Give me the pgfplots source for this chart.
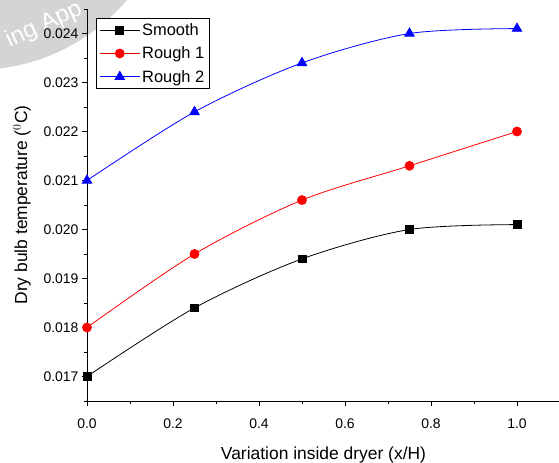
\documentclass[border=0pt]{standalone}
\usepackage{pgfplots}
\pgfplotsset{compat=1.18}
\usetikzlibrary{backgrounds}
\usepackage{fontspec}
\setmainfont{Liberation Sans}
\begin{document}
\begin{tikzpicture}[x=1bp,y=1bp]
\begin{axis}[
  name=ax,
  scale only axis,
  width=473bp, height=392bp,
  xmin=0, xmax=1.1, ymin=0.0165, ymax=0.0245,
  axis x line*=bottom, axis y line*=left,
  axis line style={black, line width=1pt},
  xtick={0,0.2,0.4,0.6,0.8,1.0},
  minor xtick={0.1,0.3,0.5,0.7,0.9,1.1},
  ytick={0.017,0.018,0.019,0.020,0.021,0.022,0.023,0.024},
  minor ytick={0.0165,0.0175,0.0185,0.0195,0.0205,0.0215,0.0225,0.0235,0.0245},
  tick align=outside,
  major tick length=5bp, minor tick length=3bp,
  tick style={black, line width=0.8pt},
  xticklabel style={yshift=-9bp, /pgf/number format/.cd, fixed, fixed zerofill, precision=1},
  yticklabel style={/pgf/number format/.cd, fixed, fixed zerofill, precision=3},
  scaled y ticks=false,
  /pgf/number format/assume math mode=true,
  ticklabel style={font=\fontsize{14}{16}\selectfont},
  xlabel={Variation inside dryer (x/H)},
  ylabel={Dry bulb temperature ($^{0}$C)},
  label style={font=\fontsize{17.5}{20}\selectfont},
  xlabel style={at={(0.5,0)}, anchor=north, yshift=-42bp},
  ylabel style={at={(rel axis cs:0,0.5)}, anchor=center, yshift=65bp},
  legend style={at={(0.019,0.977)}, anchor=north west, draw=black, line width=0.8pt,
    font=\fontsize{16.5}{19}\selectfont, inner sep=3pt, row sep=6pt},
  legend cell align=left,
  legend image code/.code={\draw[mark repeat=2,mark phase=2] plot coordinates {(0bp,0bp) (20bp,0bp) (40bp,0bp)};},
  clip=false,
]
\addplot[black, line width=0.8pt, smooth, mark=square*, mark size=4pt, mark options={solid}] coordinates {
(0,0.0170) (0.25,0.0184) (0.5,0.0194) (0.75,0.0200) (1.0,0.0201)};
\addlegendentry{Smooth}
\addplot[red, line width=0.8pt, smooth, mark=*, mark size=4.5pt] coordinates {
(0,0.0180) (0.25,0.0195) (0.5,0.0206) (0.75,0.0213) (1.0,0.0220)};
\addlegendentry{Rough 1}
\addplot[blue, line width=0.8pt, smooth, mark=triangle*, mark size=5.5pt] coordinates {
(0,0.0210) (0.25,0.0224) (0.5,0.0234) (0.75,0.0240) (1.0,0.0241)};
\addlegendentry{Rough 2}
\end{axis}
\pgfresetboundingbox
\coordinate (tl) at ([xshift=-87bp,yshift=9bp]ax.north west);
\path[use as bounding box] ([xshift=-87bp,yshift=-62bp]ax.south west) rectangle ([xshift=-1bp,yshift=9bp]ax.north east);
\begin{scope}[on background layer]
\clip ([xshift=-87bp,yshift=-62bp]ax.south west) rectangle ([xshift=-1bp,yshift=9bp]ax.north east);
\fill[black!17] ([xshift=-25bp,yshift=130bp]tl) circle (200bp);
\node[white, rotate=25, font=\fontsize{24}{26}\selectfont] at ([xshift=44bp,yshift=-25bp]tl) {ing App};
\end{scope}
\end{tikzpicture}
\end{document}
